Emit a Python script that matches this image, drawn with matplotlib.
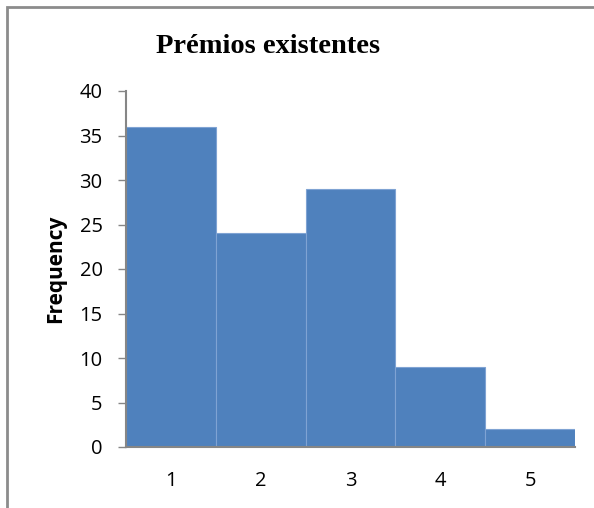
import matplotlib
matplotlib.use("Agg")
import matplotlib.pyplot as plt
from matplotlib.patches import Rectangle

categories = [1, 2, 3, 4, 5]
frequencies = [36, 24, 29, 9, 2]
yticks = [0, 5, 10, 15, 20, 25, 30, 35, 40]
title = "Prémios existentes"
ylabel = "Frequency"

W, H = 594, 508
fig = plt.figure(figsize=(W / 100, H / 100), dpi=100)
ax = fig.add_axes([126 / W, 1 - 447 / H, (575 - 126) / W, (447 - 91) / H])

ax.bar(categories, frequencies, width=1.0, color="#4F81BD",
       edgecolor="#7FA3D3", linewidth=0.8)
ax.set_xlim(0.5, 5.5)
ax.set_ylim(0, 40)
ax.set_yticks(yticks)
ax.set_xticks(categories)

tick_font = dict(family=["Open Sans", "DejaVu Sans"], size=14.5)
ax.set_yticklabels([str(v) for v in yticks], **tick_font)
ax.set_xticklabels([str(c) for c in categories], **tick_font)
ax.tick_params(axis="y", length=5.8, width=1, color="#868686", pad=11)
ax.tick_params(axis="x", length=0, pad=17)

for s in ["top", "right"]:
    ax.spines[s].set_visible(False)
for s in ["left", "bottom"]:
    ax.spines[s].set_color("#868686")
    ax.spines[s].set_linewidth(1.5)

fig.text(56 / W, 1 - 269 / H, ylabel, rotation=90, ha="center", va="center",
         family=["Open Sans", "DejaVu Sans"], weight="bold", size=15)

fig.text(268 / W, 1 - 53 / H, title, ha="center", va="baseline",
         family=["Liberation Serif"], weight="bold", size=20.5)

# outer chart frame (clipped at right/bottom)
fig.patches.append(Rectangle((7 / W, -0.05), 1.2, 1 - 7 / H + 0.05,
                             transform=fig.transFigure, fill=False,
                             edgecolor="#8C8C8C", linewidth=2))

fig.savefig("out.png", dpi=100)
